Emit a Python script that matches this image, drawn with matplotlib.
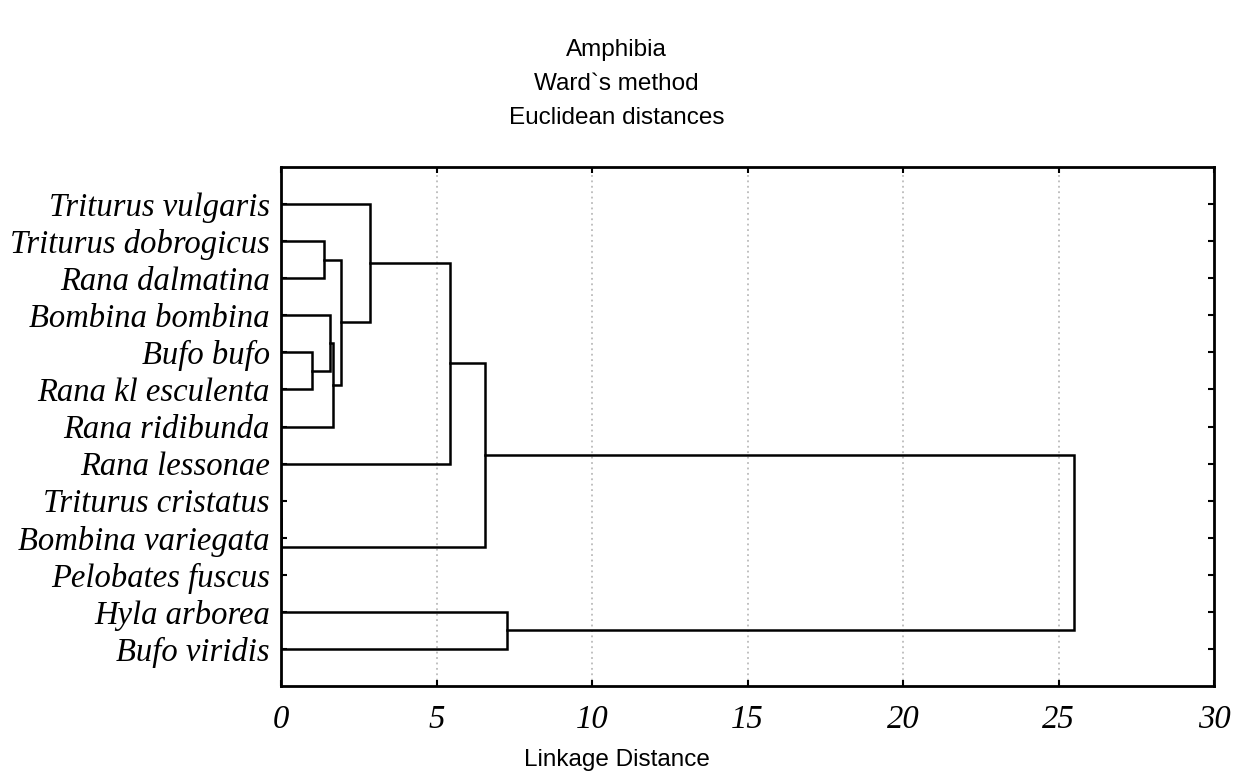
import matplotlib
matplotlib.use("Agg")
import matplotlib.pyplot as plt

# leaf order, top to bottom
species = ["Triturus vulgaris", "Triturus dobrogicus", "Rana dalmatina",
           "Bombina bombina", "Bufo bufo", "Rana kl esculenta",
           "Rana ridibunda", "Rana lessonae", "Triturus cristatus",
           "Bombina variegata", "Pelobates fuscus", "Hyla arborea",
           "Bufo viridis"]

# merges: (left cluster, right cluster, linkage distance); new ids start at 13
merge_a = [8, 13, 4, 1, 3, 17, 16, 0, 20, 21, 11, 22]
merge_b = [9, 10, 5, 2, 15, 6, 18, 19, 7, 14, 12, 23]
merge_d = [0.0, 0.0, 1.01, 1.39, 1.59, 1.68, 1.92, 2.87, 5.42, 6.57, 7.28, 25.5]

serif_it = {"family": "Liberation Serif", "style": "italic", "size": 23.5}
sans = {"family": "Liberation Sans", "size": 17.5}

fig = plt.figure(figsize=(12.33, 7.8), dpi=100)
ax = fig.add_axes([0.2279, 0.1205, 0.7567, 0.6654])

ypos = {i: i + 1.0 for i in range(len(species))}
xpos = {i: 0.0 for i in range(len(species))}
for k, (a, b, d) in enumerate(zip(merge_a, merge_b, merge_d)):
    nid = len(species) + k
    ax.plot([xpos[a], d, d, xpos[b]], [ypos[a], ypos[a], ypos[b], ypos[b]],
            color="black", lw=1.8, solid_joinstyle="miter")
    ypos[nid] = (ypos[a] + ypos[b]) / 2
    xpos[nid] = d

ax.set_xlim(0, 30)
ax.set_ylim(len(species) + 1, 0)
ax.set_xticks(range(0, 31, 5))
ax.set_xticklabels([str(v) for v in range(0, 31, 5)], fontdict=serif_it)
ax.set_yticks(range(1, len(species) + 1))
ax.set_yticklabels(species, fontdict=serif_it)
ax.tick_params(direction="in", length=4, width=1.5, top=True, right=True)
ax.tick_params(axis="y", pad=8)
ax.tick_params(axis="x", pad=13)
for s in ax.spines.values():
    s.set_linewidth(2.0)

for v in range(5, 30, 5):
    ax.axvline(v, color="#bbbbbb", lw=1.3, ls=(0, (1, 2)), zorder=0)

fig.text(0.5, 1 - 50 / 780, "Amphibia", ha="center", va="center", **sans)
fig.text(0.5, 1 - 84 / 780, "Ward`s method", ha="center", va="center", **sans)
fig.text(0.5, 1 - 118 / 780, "Euclidean distances", ha="center", va="center", **sans)
fig.text(0.5, 1 - 760 / 780, "Linkage Distance", ha="center", va="center", **sans)

fig.savefig("out.png", dpi=100)
